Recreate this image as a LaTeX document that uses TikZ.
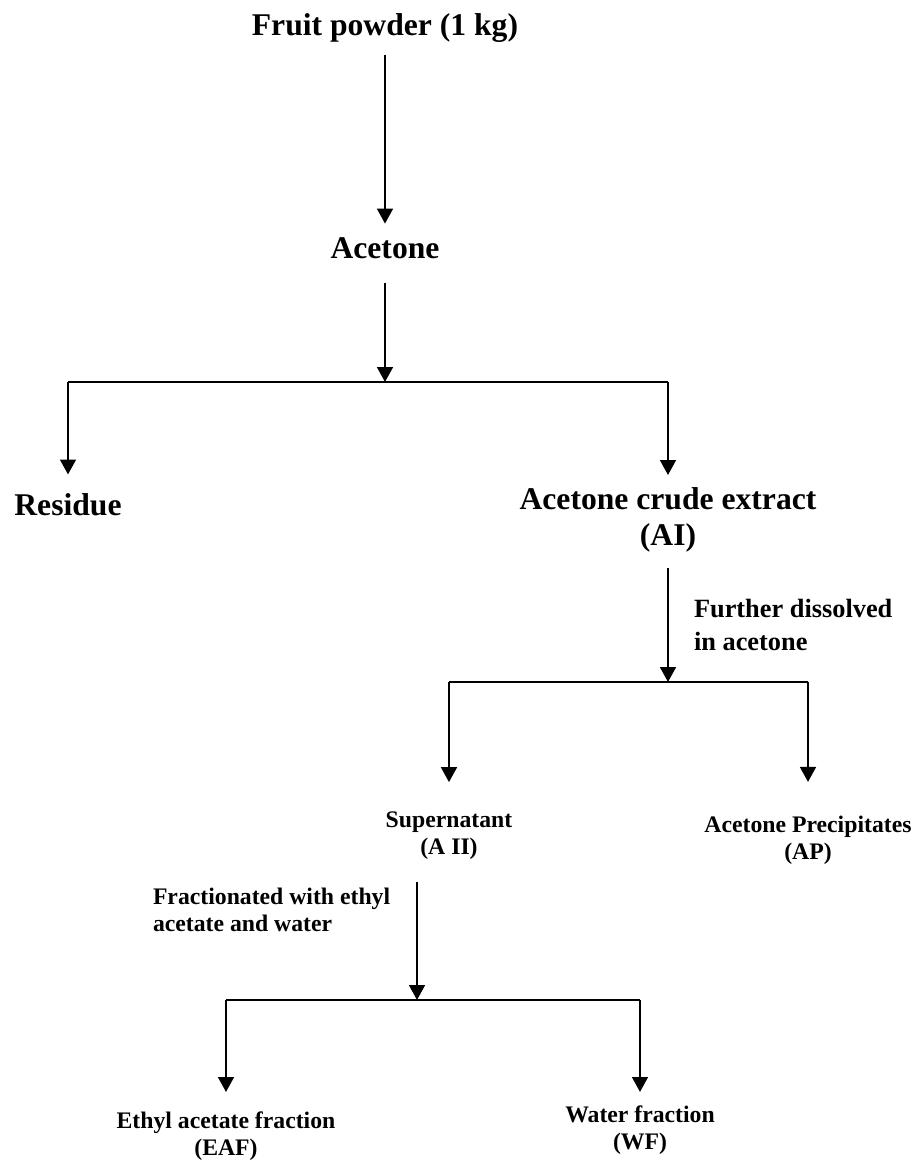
\documentclass[tikz,border=0pt]{standalone}
\usepackage{fontspec}
\setmainfont{Liberation Serif}
\usetikzlibrary{arrows.meta}

\begin{document}
\begin{tikzpicture}[%
  x=0.02cm, y=-0.02cm,
  every node/.style={inner sep=0pt, outer sep=0pt, font=\bfseries},
  big/.style={font=\fontsize{18}{20}\selectfont\bfseries, align=center},
  small/.style={font=\fontsize{13.5}{15.5}\selectfont\bfseries, align=center, anchor=north},
  note/.style={font=\fontsize{15}{19}\selectfont\bfseries, align=left, anchor=north west},
  arr/.style={-{Triangle[length=8.5pt, width=9pt]}, line width=1.2pt},
  bar/.style={line width=1.2pt}
]
\useasboundingbox (0,0) rectangle (920,1164);

% 1. Raw material and extraction
\node[big, anchor=base] (fruit) at (385,35) {Fruit powder (1 kg)};
\node[big, anchor=base] (acet) at (385,258) {Acetone};
\draw[arr, shorten <=7.5pt, shorten >=7.7pt] (fruit) -- (acet);

% 2. First split
\coordinate (j1) at (385,382);
\coordinate (j1l) at (68,382);
\coordinate (j1r) at (668,382);
\draw[arr, shorten <=14pt] (acet) -- (j1);
\draw[bar] (j1l) -- (j1r);
\node[big, anchor=base] (res) at (68,515) {Residue};
\node[big, anchor=north] (crude) at (668,488) {Acetone crude extract\\(AI)};
\draw[arr, shorten >=10.6pt] (j1l) -- (res);
\draw[arr, shorten >=7.4pt] (j1r) -- (crude);

% 3. Second split
\coordinate (j2) at (668,682);
\coordinate (j2l) at (449,682);
\coordinate (j2r) at (808,682);
\draw[arr, shorten <=9pt] (crude) -- (j2);
\node[note] (further) at (694,599) {Further dissolved\\in acetone};
\draw[bar] (j2l) -- (j2r);
\node[small] (super) at (449,812) {Supernatant\\(A II)};
\node[small] (ap) at (808,816) {Acetone Precipitates\\(AP)};
\draw[arr, shorten >=17pt] (j2l) -- (super);
\draw[arr, shorten >=19.4pt] (j2r) -- (ap);

% 4. Fractionation
\coordinate (j3) at (417,1000);
\coordinate (j3l) at (226,1000);
\coordinate (j3r) at (640,1000);
\draw[arr, shorten <=12.5pt] (super.south -| j3) -- (j3);
\node[note, font=\fontsize{13.5}{15.5}\selectfont\bfseries] (fract) at (153,888) {Fractionated with ethyl\\acetate and water};
\draw[bar] (j3l) -- (j3r);
\node[small] (eaf) at (226,1112) {Ethyl acetate fraction\\(EAF)};
\node[small] (wf) at (640,1106) {Water fraction\\(WF)};
\draw[arr, shorten >=11.4pt] (j3l) -- (eaf);
\draw[arr, shorten >=8pt] (j3r) -- (wf);

\end{tikzpicture}
\end{document}
